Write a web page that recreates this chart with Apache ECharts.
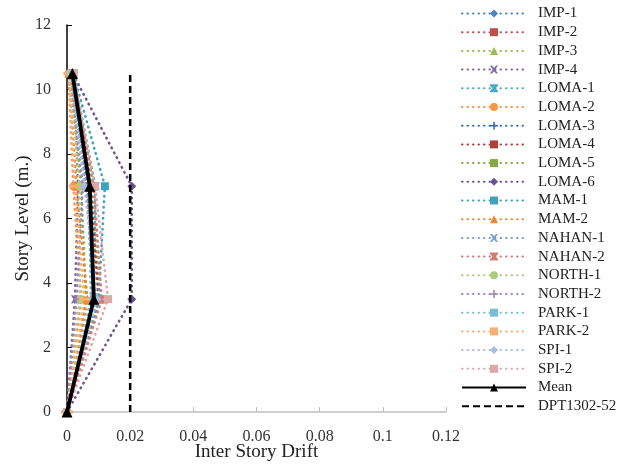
<!DOCTYPE html>
<html>
<head>
<meta charset="utf-8">
<script src="https://cdn.jsdelivr.net/npm/echarts@6/dist/echarts.min.js"></script>
<style>html,body{margin:0;padding:0;background:#fff}#c{width:633px;height:466px}</style>
</head>
<body>
<div id="c"></div>
<script>
// Story levels (m.)
const levels = [0, 3.5, 7, 10.5];
const seriesNames = ["IMP-1","IMP-2","IMP-3","IMP-4","LOMA-1","LOMA-2","LOMA-3","LOMA-4","LOMA-5","LOMA-6",
  "MAM-1","MAM-2","NAHAN-1","NAHAN-2","NORTH-1","NORTH-2","PARK-1","PARK-2","SPI-1","SPI-2"];
// drift at each level, per record
const IMP_1   = [0, 0.0085, 0.0070, 0.0015];
const IMP_2   = [0, 0.0095, 0.0060, 0.0012];
const IMP_3   = [0, 0.0105, 0.0080, 0.0018];
const IMP_4   = [0, 0.0025, 0.0035, 0.0022];
const LOMA_1  = [0, 0.0085, 0.0090, 0.0020];
const LOMA_2  = [0, 0.0045, 0.0020, 0.0005];
const LOMA_3  = [0, 0.0080, 0.0065, 0.0014];
const LOMA_4  = [0, 0.0100, 0.0075, 0.0016];
const LOMA_5  = [0, 0.0060, 0.0045, 0.0010];
const LOMA_6  = [0, 0.0205, 0.0205, 0.0018];
const MAM_1   = [0, 0.0100, 0.0120, 0.0020];
const MAM_2   = [0, 0.0065, 0.0030, 0.0006];
const NAHAN_1 = [0, 0.0090, 0.0060, 0.0013];
const NAHAN_2 = [0, 0.0110, 0.0085, 0.0017];
const NORTH_1 = [0, 0.0040, 0.0040, 0.0009];
const NORTH_2 = [0, 0.0030, 0.0050, 0.0012];
const PARK_1  = [0, 0.0075, 0.0070, 0.0015];
const PARK_2  = [0, 0.0055, 0.0025, 0.0006];
const SPI_1   = [0, 0.0095, 0.0055, 0.0012];
const SPI_2   = [0, 0.0130, 0.0089, 0.0021];
const MEAN    = [0, 0.0085, 0.0072, 0.0017];
const DPT_x   = [0.02, 0.02];
const DPT_y   = [0, 10.5];
const xTicks = [0, 0.02, 0.04, 0.06, 0.08, 0.1, 0.12];
const yTicks = [0, 2, 4, 6, 8, 10, 12];

const records = [IMP_1,IMP_2,IMP_3,IMP_4,LOMA_1,LOMA_2,LOMA_3,LOMA_4,LOMA_5,LOMA_6,
  MAM_1,MAM_2,NAHAN_1,NAHAN_2,NORTH_1,NORTH_2,PARK_1,PARK_2,SPI_1,SPI_2];

const colors = ["#4F81BD","#C0504D","#9BBB59","#8064A2","#4BACC6","#F79646",
  "#3F6FB0","#B03F3C","#86A84A","#6E5290","#3EA3BF","#EE8737",
  "#7C9DD0","#D27C7A","#AFCB7F","#9C86BC","#75C0D6","#F9AE72",
  "#A8BEE0","#DDA8A7"];
const X_PATH = 'path://M0,0L2.5,0L5,3L7.5,0L10,0L6.5,5L10,10L7.5,10L5,7L2.5,10L0,10L3.5,5Z';
const STAR_PATH = 'path://M0,0L10,0L10,2L6.8,5L10,8L10,10L0,10L0,8L3.2,5L0,2Z';
const PLUS_PATH = 'path://M4,0L6,0L6,4L10,4L10,6L6,6L6,10L4,10L4,6L0,6L0,4L4,4Z';
const symbols = [
  ['diamond',9],['rect',8],['triangle',9],[X_PATH,8],[STAR_PATH,8],['circle',8],[PLUS_PATH,7],['rect',[7,3]],['rect',[11,3]],
  ['diamond',9],['rect',8],['triangle',9],[X_PATH,8],[STAR_PATH,8],['circle',8],[PLUS_PATH,7],['rect',[7,3]],['rect',[11,3]],
  ['diamond',9],['rect',8]
];
const FONT = 'Liberation Serif';

const series = records.map((r, i) => ({
  name: seriesNames[i],
  type: 'line',
  data: r.map((v, k) => [v, levels[k]]),
  symbol: symbols[i][0],
  symbolSize: symbols[i][1],
  showAllSymbol: true,
  itemStyle: {color: colors[i]},
  lineStyle: {color: colors[i], width: 2.6, type: [0.5, 5], cap: 'round'},
  z: 2
}));
series.push({
  name: 'Mean', type: 'line',
  data: MEAN.map((v, k) => [v, levels[k]]),
  symbol: 'triangle', symbolSize: 11,
  itemStyle: {color: '#000'},
  lineStyle: {color: '#000', width: 3.8},
  z: 5
});
series.push({
  name: 'DPT1302-52', type: 'line',
  data: DPT_x.map((v, k) => [v, DPT_y[k]]),
  symbol: 'none',
  itemStyle: {color: '#000'},
  lineStyle: {color: '#000', width: 2.5, type: [7, 4]},
  z: 4
});

const chart = echarts.init(document.getElementById('c'), null, {renderer: 'canvas'});
chart.setOption({
  animation: false,
  backgroundColor: '#fff',
  textStyle: {fontFamily: FONT},
  grid: {left: 67, right: 187, top: 25, bottom: 54, containLabel: false, outerBoundsMode: 'none'},
  legend: {
    orient: 'vertical', left: 461, top: 6, padding: 0,
    itemWidth: 64, itemHeight: 10, itemGap: 3.7,
    textStyle: {fontFamily: FONT, fontSize: 15, color: '#222', padding: [0, 0, 0, 7]},
    data: seriesNames.concat(['Mean']).concat([{name: 'DPT1302-52', itemStyle: {opacity: 0}}])
  },
  xAxis: {
    type: 'value', min: 0, max: 0.12, interval: 0.02,
    name: 'Inter Story Drift', nameLocation: 'middle', nameGap: 31, nameMoveOverlap: false,
    nameTextStyle: {fontFamily: FONT, fontSize: 19, color: '#222'},
    axisLine: {show: true, lineStyle: {color: '#BFBFBF', width: 1.5}},
    axisTick: {show: true, inside: true, length: 5, lineStyle: {color: '#BFBFBF'}},
    axisLabel: {fontFamily: FONT, fontSize: 16, color: '#333', margin: 17,
      formatter: v => { const m = xTicks.find(t => Math.abs(t - v) < 1e-9); return m === undefined ? '' : String(m); }},
    splitLine: {show: false}
  },
  yAxis: {
    type: 'value', min: 0, max: 12, interval: 2,
    name: 'Story Level (m.)', nameLocation: 'middle', nameGap: 34, nameMoveOverlap: false,
    nameTextStyle: {fontFamily: FONT, fontSize: 19, color: '#222'},
    axisLine: {show: true, lineStyle: {color: '#000', width: 1.5}},
    axisTick: {show: true, inside: true, length: 5, lineStyle: {color: '#000'}},
    axisLabel: {fontFamily: FONT, fontSize: 16, color: '#333', margin: 16,
      formatter: v => { const m = yTicks.find(t => Math.abs(t - v) < 1e-9); return m === undefined ? '' : String(m); }},
    splitLine: {show: false}
  },
  series: series
});
</script>
</body>
</html>
